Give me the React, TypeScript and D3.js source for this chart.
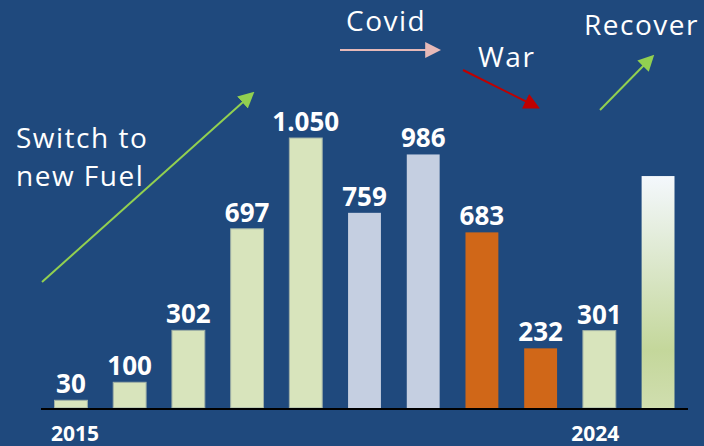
import React, { useEffect, useRef } from "react";
import * as d3 from "d3";

// yearly values, last one is the recovery projection (no label)
const years = ["2015", "2016", "2017", "2018", "2019", "2020", "2021", "2022", "2023", "2024", "2025"];
const values = [30, 100, 302, 697, 1050, 759, 986, 683, 232, 301, 902];
const phases = ["fuel", "fuel", "fuel", "fuel", "fuel", "covid", "covid", "war", "war", "fuel", "recover"];
const shownYears = ["2015", "2024"];
const yearShift = [4, -4]; // the year labels sit a bit off the bar centres

const W = 704;
const H = 446;

const fmt = d3.formatLocale({ decimal: ",", thousands: ".", grouping: [3], currency: ["", "€"] }).format(",");

export default function App() {
  const ref = useRef<SVGSVGElement>(null);

  useEffect(() => {
    const svg = d3.select(ref.current);
    svg.selectAll("*").remove();

    const data = years.map((y, i) => ({ year: y, value: values[i], phase: phases[i] }));

    const defs = svg.append("defs");
    const grad = defs.append("linearGradient").attr("id", "recov").attr("x1", 0).attr("y1", 0).attr("x2", 0).attr("y2", 1);
    grad.append("stop").attr("offset", "0%").attr("stop-color", "#f4f8fd");
    grad.append("stop").attr("offset", "75%").attr("stop-color", "#c4d79b");
    grad.append("stop").attr("offset", "100%").attr("stop-color", "#d0deaf");

    const arrowColors: Record<string, string> = { green: "#92d050", pink: "#e6b9b8", red: "#c00000" };
    Object.entries(arrowColors).forEach(([k, c]) => {
      defs.append("marker")
        .attr("id", "ah-" + k)
        .attr("viewBox", "0 0 10 10")
        .attr("refX", 8).attr("refY", 5)
        .attr("markerWidth", 8).attr("markerHeight", 8)
        .attr("markerUnits", "strokeWidth")
        .attr("orient", "auto")
        .append("path").attr("d", "M0,0 L10,5 L0,10 Z").attr("fill", c);
    });

    svg.append("rect").attr("width", W).attr("height", H).attr("fill", "#1f497d");

    const x = d3.scaleBand<string>()
      .domain(years)
      .range([41, 688])
      .paddingInner(0.44)
      .paddingOuter(0.23);

    const y = d3.scaleLinear().domain([0, 1050]).range([408, 138]);

    const fill = (p: string) =>
      p === "covid" ? "#c5cfe1" : p === "war" ? "#d06718" : p === "recover" ? "url(#recov)" : "#d8e4bc";

    svg.selectAll("rect.bar")
      .data(data)
      .enter()
      .append("rect")
      .attr("class", "bar")
      .attr("x", d => x(d.year)!)
      .attr("y", d => y(d.value))
      .attr("width", x.bandwidth())
      .attr("height", d => y(0) - y(d.value))
      .attr("fill", d => fill(d.phase))
      .attr("stroke", d => (d.phase === "fuel" ? "#9fb0a6" : "none"))
      .attr("stroke-width", 1);

    // value labels
    svg.selectAll("text.val")
      .data(data.filter(d => d.phase !== "recover"))
      .enter()
      .append("text")
      .attr("x", d => x(d.year)! + x.bandwidth() / 2)
      .attr("y", d => y(d.value) - 7)
      .attr("text-anchor", "middle")
      .attr("fill", "#ffffff")
      .attr("font-family", "Open Sans, sans-serif")
      .attr("font-weight", 700)
      .attr("font-size", 26)
      .text(d => fmt(d.value));

    // baseline
    svg.append("line")
      .attr("x1", 41).attr("x2", 688)
      .attr("y1", y(0) + 1).attr("y2", y(0) + 1)
      .attr("stroke", "#000000").attr("stroke-width", 2);

    // year labels
    svg.selectAll("text.yr")
      .data(shownYears)
      .enter()
      .append("text")
      .attr("x", (d, i) => x(d)! + x.bandwidth() / 2 + yearShift[i])
      .attr("y", 441)
      .attr("text-anchor", "middle")
      .attr("fill", "#ffffff")
      .attr("font-family", "Open Sans, sans-serif")
      .attr("font-weight", 700)
      .attr("font-size", 21)
      .text(d => d);

    // annotations
    const note = (txt: string, tx: number, ty: number) =>
      svg.append("text")
        .attr("x", tx).attr("y", ty)
        .attr("fill", "#ffffff")
        .attr("font-family", "Open Sans, sans-serif")
        .attr("font-size", 28)
        .attr("letter-spacing", 1.5)
        .text(txt);
    note("Switch to", 16, 148);
    note("new Fuel", 16, 186);
    note("Covid", 346, 31);
    note("War", 478, 67);
    note("Recover", 584, 35);

    const arrow = (x1: number, y1: number, x2: number, y2: number, c: string) =>
      svg.append("line")
        .attr("x1", x1).attr("y1", y1).attr("x2", x2).attr("y2", y2)
        .attr("stroke", arrowColors[c]).attr("stroke-width", 2)
        .attr("marker-end", `url(#ah-${c})`);
    arrow(42, 282, 252, 94, "green");
    arrow(340, 50, 438, 50, "pink");
    arrow(463, 70, 537, 107, "red");
    arrow(600, 110, 652, 57, "green");
  }, []);

  return (
    <svg ref={ref} width={W} height={H} style={{ position: "absolute", left: 0, top: 0 }} />
  );
}
